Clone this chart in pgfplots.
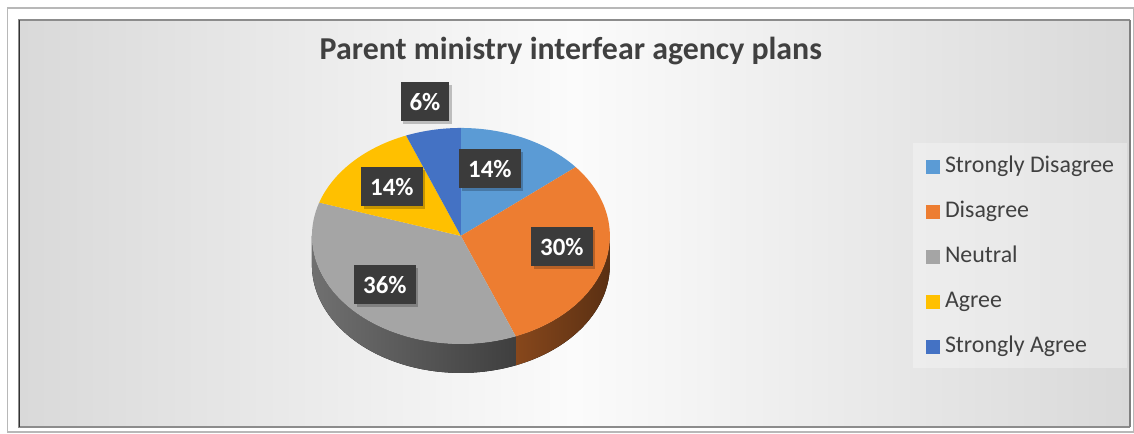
\documentclass[border=0pt]{standalone}
\usepackage{fontspec}
\setmainfont{Carlito}
\usepackage{pgfplots}
\usepackage{pgfplotstable}
\pgfplotsset{compat=1.18}

\definecolor{sdcol}{HTML}{5B9BD5}
\definecolor{dcol}{HTML}{ED7D31}
\definecolor{ncol}{HTML}{A5A5A5}
\definecolor{acol}{HTML}{FFC000}
\definecolor{sacol}{HTML}{4472C4}
\definecolor{txt}{HTML}{404040}
\definecolor{lab}{HTML}{3B3B3B}
\definecolor{bgside}{HTML}{D9D9D9}
\definecolor{bgmid}{HTML}{FBFBFB}

% share in percent, label box centre (axis units = pixels, y from bottom)
\pgfplotstableread{
pct lx ly
14 490 265
30 562 187
36 385 149
14 392 247
6 425 332
}\piedata

\newcommand\cx{461}
\newcommand\cy{198}
\newcommand\rx{149bp}
\newcommand\ry{108bp}
\newcommand\rxy{149bp and 108bp}
\newcommand\dep{29bp}

\begin{document}
\begin{tikzpicture}
\begin{axis}[
  width=1134bp, height=434bp, scale only axis,
  xmin=0, xmax=1134, ymin=0, ymax=434,
  hide axis, clip=false,
  legend style={at={(axis cs:925.5,280)}, anchor=north west,
    draw=none, fill=none, inner sep=0pt,
    font=\fontsize{24}{28}\selectfont, text=txt,
    row sep=20bp,
    nodes={inner sep=1.5bp, text height=17bp, text depth=5bp},
    /tikz/every odd column/.append style={column sep=4bp}},
  legend cell align=left,
  legend image code/.code={\fill (0bp,-7bp) rectangle (14bp,7bp);},
]
\pgfplotsextra{
  % page, frame and background
  \fill[white] (axis cs:0,0) rectangle (axis cs:1134,434);
  \draw[black!28, line width=1.5bp] (axis cs:7.5,2) rectangle (axis cs:1133.5,426);
  \fill[left color=bgside, right color=bgside, middle color=bgmid]
    (axis cs:19,7) rectangle (axis cs:1130,414);
  \draw[black!45, line width=1.2bp] (axis cs:19,7) rectangle (axis cs:1130,414);
  \draw[black!80, line width=1.5bp] (axis cs:19.5,7) -- (axis cs:19.5,414);
  \draw[black!50, line width=2bp] (axis cs:1130,7) -- (axis cs:1130,414);
  % legend panel
  \fill[white, opacity=0.3] (axis cs:913,66) rectangle (axis cs:1127,291);
  % title
  \node[anchor=base, text=txt, font=\bfseries\fontsize{32}{36}\selectfont]
    at (axis cs:571,374) {Parent ministry interfear agency plans};
  % sides of the pie (front half only)
  \xdef\start{90}
  \foreach \i/\col in {0/sdcol,1/dcol,2/ncol,3/acol,4/sacol}{
    \pgfplotstablegetelem{\i}{pct}\of\piedata
    \pgfmathsetmacro\e{\start-3.6*\pgfplotsretval}
    \pgfmathsetmacro\va{min(\start,0)}
    \pgfmathsetmacro\vb{max(\e,-180)}
    \pgfmathtruncatemacro\vis{\va>\vb}
    \ifnum\vis=1
      \fill[left color=\col!68!black, right color=\col!38!black]
        (axis cs:\cx,\cy) ++(\va:\rxy)
        arc[start angle=\va, end angle=\vb, x radius=\rx, y radius=\ry]
        -- ++(0bp,-\dep)
        arc[start angle=\vb, end angle=\va, x radius=\rx, y radius=\ry]
        -- cycle;
    \fi
    \xdef\start{\e}
  }
  % top faces
  \xdef\start{90}
  \foreach \i/\col in {0/sdcol,1/dcol,2/ncol,3/acol,4/sacol}{
    \pgfplotstablegetelem{\i}{pct}\of\piedata
    \pgfmathsetmacro\e{\start-3.6*\pgfplotsretval}
    \fill[\col] (axis cs:\cx,\cy) -- ++(\start:\rxy)
      arc[start angle=\start, end angle=\e, x radius=\rx, y radius=\ry]
      -- cycle;
    \xdef\start{\e}
  }
  % data labels
  \foreach \i in {0,...,4}{
    \pgfplotstablegetelem{\i}{pct}\of\piedata \let\p\pgfplotsretval
    \pgfplotstablegetelem{\i}{lx}\of\piedata \let\lx\pgfplotsretval
    \pgfplotstablegetelem{\i}{ly}\of\piedata \let\ly\pgfplotsretval
    \node[fill=black, opacity=0.22, minimum height=39bp,
      inner xsep=9bp, font=\bfseries\fontsize{25}{25}\selectfont]
      at ([xshift=2.5bp, yshift=-2.5bp]axis cs:\lx,\ly) {\phantom{\p\%}};
    \node[fill=lab, text=white, minimum height=39bp, inner xsep=9bp,
      font=\bfseries\fontsize{25}{25}\selectfont]
      at (axis cs:\lx,\ly) {\p\%};
  }
}
\addlegendimage{draw=none, fill=sdcol}
\addlegendentry{Strongly Disagree}
\addlegendimage{draw=none, fill=dcol}
\addlegendentry{Disagree}
\addlegendimage{draw=none, fill=ncol}
\addlegendentry{Neutral}
\addlegendimage{draw=none, fill=acol}
\addlegendentry{Agree}
\addlegendimage{draw=none, fill=sacol}
\addlegendentry{Strongly Agree}
\end{axis}
\end{tikzpicture}
\end{document}
